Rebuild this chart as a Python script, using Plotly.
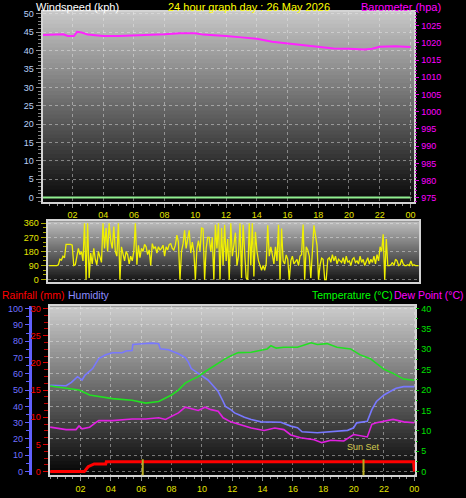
import plotly.graph_objects as go

# 24 hour weather station graph - 26 May 2026

hour_ticks = [2, 4, 6, 8, 10, 12, 14, 16, 18, 20, 22, 24]
hour_labels = ["02", "04", "06", "08", "10", "12", "14", "16", "18", "20", "22", "00"]

# windspeed (kph), calm all day
speed_hours = [0, 24]
speed_kph = [0, 0]

# barometer (hpa)
pressure_hours = [0, 0.5, 1.0, 1.4, 1.7, 2.1, 2.3, 2.6, 3.0, 3.5, 4, 5, 6, 7, 8, 9, 10, 10.5,
                  11, 12, 13, 14, 15, 16, 17, 18, 19, 20, 21, 21.5, 22, 23, 24]
pressure_hpa = [1022.3, 1022.3, 1022.3, 1022.5, 1022.0, 1022.0, 1023.2, 1023.0, 1022.4, 1022.1,
                1022.0, 1022.0, 1022.1, 1022.3, 1022.5, 1022.8, 1022.8, 1022.4, 1022.3, 1022.0,
                1021.6, 1021.2, 1020.3, 1019.8, 1019.4, 1019.0, 1018.4, 1018.3, 1018.1, 1018.3,
                1018.9, 1019.0, 1018.8]

# wind direction (degrees), one reading every 6 minutes
wind_dir = [
    90, 90, 90, 90, 90, 90, 95, 130, 125, 150,
    140, 225, 225, 225, 225, 220, 90, 95, 150, 200,
    160, 180, 120, 360, 0, 360, 10, 170, 100, 200,
    130, 95, 180, 150, 110, 360, 200, 330, 180, 360,
    250, 200, 340, 180, 150, 360, 0, 210, 160, 120,
    180, 160, 100, 150, 120, 180, 360, 95, 220, 140,
    200, 180, 225, 210, 160, 190, 90, 230, 200, 210,
    170, 210, 190, 200, 220, 150, 210, 190, 225, 230,
    200, 190, 220, 284, 240, 0, 180, 230, 315, 200,
    260, 315, 170, 240, 180, 0, 200, 250, 180, 330,
    326, 0, 200, 270, 270, 180, 270, 0, 350, 200,
    360, 0, 330, 90, 350, 120, 260, 0, 360, 150,
    220, 300, 90, 150, 360, 10, 350, 180, 10, 0,
    360, 90, 360, 20, 305, 180, 120, 90, 60, 90,
    60, 100, 347, 150, 210, 160, 100, 210, 120, 351,
    0, 326, 120, 100, 158, 130, 0, 120, 150, 100,
    120, 130, 90, 150, 160, 352, 0, 210, 190, 150,
    10, 150, 347, 284, 221, 0, 95, 137, 130, 0,
    0, 130, 140, 110, 160, 120, 150, 100, 130, 120,
    110, 140, 100, 150, 110, 120, 90, 130, 140, 110,
    120, 100, 150, 110, 130, 90, 120, 140, 100, 130,
    110, 150, 100, 160, 120, 210, 180, 290, 0, 260,
    90, 90, 95, 110, 90, 130, 120, 90, 95, 130,
    100, 90, 90, 95, 90, 120, 90, 95, 90, 90,
    90]
dir_hours = [i / 10 for i in range(len(wind_dir))]

# humidity (%)
hum_hours = [0, 1.05, 1.4, 1.8, 2.1, 2.3, 2.8, 3.2, 3.66, 4.1, 4.75, 5.0, 5.4, 5.45, 6.06, 6.7,
             7.15, 7.25, 7.8, 8.45, 8.9, 9.1, 9.3, 9.76, 10.1, 10.4, 10.7, 11.07, 11.4, 11.55,
             11.9, 12.15, 12.4, 12.8, 13.25, 13.9, 15.2, 15.86, 16.3, 16.6, 17.6, 18.5, 18.9,
             19.6, 20.0, 20.2, 20.9, 21.2, 21.5, 22.0, 22.4, 22.8, 23.3, 24]
humidity = [53, 52.7, 54.7, 58.2, 56.2, 59.2, 63.2, 69.3, 71.7, 72.9, 72.9, 74, 74.3, 78, 78.4,
            78.8, 78.4, 75.4, 74.7, 72.3, 69.9, 67.3, 63.2, 60.2, 58.2, 56.2, 53.1, 49.1, 43, 40,
            38, 36, 35, 33.3, 31.9, 30.5, 30.3, 27.9, 26.9, 24.4, 23.8, 24.4, 24.8, 25.3, 26.9,
            29.9, 30.9, 38, 43, 47, 49.1, 51.1, 52.1, 52.1]

# temperature (C)
temp_hours = [0, 1.05, 1.9, 2.6, 3.4, 4.1, 5.4, 6.3, 7.15, 7.6, 8.0, 8.45, 8.9, 9.3, 9.76, 10.2,
              10.6, 11.07, 11.5, 11.9, 12.4, 13.25, 13.9, 14.3, 14.55, 14.9, 15.4, 16.3, 17.2,
              17.6, 18.25, 18.9, 19.8, 20.4, 21.1, 21.5, 22.0, 22.6, 23.3, 24]
temperature = [21.0, 20.4, 20.0, 18.8, 18.4, 17.9, 17.5, 16.8, 17.2, 18.0, 18.8, 20.0, 21.7, 22.5,
               23.3, 24.5, 25.5, 26.7, 27.6, 28.4, 29.2, 29.3, 29.7, 30.1, 30.9, 30.3, 30.5, 30.5,
               31.6, 31.2, 31.4, 30.5, 30.1, 28.7, 27.7, 26.5, 25.1, 24.1, 22.7, 22.4]

# dew point (C)
dew_hours = [0, 1.05, 1.7, 1.9, 2.1, 2.6, 3.0, 3.2, 4.1, 5.4, 6.3, 7.15, 7.6, 8.0, 8.45, 8.9, 9.3,
             9.76, 10.2, 10.6, 11.07, 11.4, 11.9, 12.4, 13.25, 14.1, 14.8, 15.4, 15.86, 16.5,
             17.4, 17.9, 18.5, 19.35, 20.0, 20.9, 21.2, 21.5, 22.6, 23.3, 24]
dew_point = [10.9, 10.3, 10.3, 11.2, 10.5, 10.9, 12.0, 12.5, 12.5, 12.9, 12.9, 13.2, 12.8, 13.6,
             14.4, 15.8, 15.4, 15.0, 15.8, 15.2, 14.8, 13.2, 12.2, 11.6, 10.7, 10.1, 10.7, 10.3,
             9.0, 8.3, 7.8, 7.1, 7.7, 7.5, 9.1, 8.5, 11.6, 12.0, 12.8, 12.2, 12.0]

# rainfall (mm)
rain_hours = [0, 2.25, 2.5, 2.9, 3.66, 3.7, 23.95, 24.0]
rain_mm = [0, 0, 0.9, 1.4, 1.4, 1.8, 1.8, 0]

# sun rise / sun set
sun_hours = [6.1, 20.65]

W, H = 466, 498


def px(x):
    return x / W


def py(y):
    return 1 - y / H


def add_gradient(fig, xa, ya, top, bottom, n=48):
    # grey-to-black background of a panel, stripes overlap a little to hide seams
    for i in range(n):
        g = int(bottom + (top - bottom) * (i + 0.5) / n)
        fig.add_shape(type="rect", xref=xa + " domain", yref=ya + " domain",
                      x0=0, x1=1, y0=i / n, y1=min(1, (i + 1.6) / n),
                      fillcolor=f"rgb({g},{g},{g})", line_width=0, layer="below")


FONT = "Liberation Sans"
GRID = "rgba(235,235,235,0.45)"
BORDER = "#d4d4d4"
YEL = "#e4e400"

fig = go.Figure()

fig.add_trace(go.Scatter(x=speed_hours, y=speed_kph, xaxis="x", yaxis="y", mode="lines",
                         line=dict(color="#90ee90", width=2)))
fig.add_trace(go.Scatter(x=pressure_hours, y=pressure_hpa, xaxis="x", yaxis="y2", mode="lines",
                         line=dict(color="#ff22ff", width=2)))
fig.add_trace(go.Scatter(x=dir_hours, y=wind_dir, xaxis="x2", yaxis="y3", mode="lines",
                         line=dict(color="#f0f000", width=1.3)))
fig.add_trace(go.Scatter(x=rain_hours, y=rain_mm, xaxis="x3", yaxis="y5", mode="lines",
                         line=dict(color="#ff0000", width=3)))
fig.add_trace(go.Scatter(x=hum_hours, y=humidity, xaxis="x3", yaxis="y6", mode="lines",
                         line=dict(color="#7878ff", width=1.6)))
fig.add_trace(go.Scatter(x=temp_hours, y=temperature, xaxis="x3", yaxis="y7", mode="lines",
                         line=dict(color="#22e022", width=1.6)))
fig.add_trace(go.Scatter(x=dew_hours, y=dew_point, xaxis="x3", yaxis="y7", mode="lines",
                         line=dict(color="#e020e0", width=1.6)))

add_gradient(fig, "x", "y", 200, 8)
add_gradient(fig, "x2", "y3", 190, 20)
add_gradient(fig, "x3", "y5", 205, 4)

for t in sun_hours:
    fig.add_shape(type="line", xref="x3", yref="y5 domain", x0=t, x1=t, y0=0, y1=0.094,
                  line=dict(color="#b8ac20", width=2))
fig.add_annotation(x=sun_hours[1], xref="x3", y=0.123, yref="y5 domain", text="Sun Set",
                   showarrow=False, font=dict(color="#d4cc50", size=9))

xcommon = dict(tickvals=hour_ticks, ticktext=hour_labels, tickfont=dict(color=YEL, size=9),
               ticks="outside", ticklen=4, tickcolor="#909090",
               minor=dict(tickmode="linear", tick0=0, dtick=0.5, ticks="outside", ticklen=2,
                          tickcolor="#909090", showgrid=False),
               showgrid=True, gridcolor=GRID, griddash="dot", gridwidth=1,
               showline=True, linecolor=BORDER, linewidth=2, mirror=True, zeroline=False)

fig.update_layout(
    width=W, height=H, autosize=False, margin=dict(l=0, r=0, t=0, b=0),
    paper_bgcolor="black", plot_bgcolor="black", showlegend=False,
    font=dict(family=FONT, size=9, color="white"),
    xaxis=dict(domain=[px(43), px(418)], range=[0.06, 24.26], anchor="y", **xcommon),
    yaxis=dict(domain=[py(201), py(9)], range=[-1.08, 50.54], anchor="x",
               tick0=0, dtick=5, tickfont=dict(color="#b8d0f8", size=9),
               ticks="outside", ticklen=5, tickcolor="#909090",
               minor=dict(dtick=1, ticks="outside", ticklen=3, tickcolor="#808080", showgrid=False),
               showgrid=True, gridcolor=GRID, griddash="dot",
               showline=True, linecolor=BORDER, linewidth=2, mirror=True, zeroline=False),
    yaxis2=dict(overlaying="y", side="right", anchor="x", range=[973.9, 1029.0],
                tick0=975, dtick=5, tickfont=dict(color="#ff00ff", size=9),
                ticks="outside", ticklen=4, tickcolor="#e000e0",
                minor=dict(dtick=1, ticks="outside", ticklen=2, tickcolor="#c000c0", showgrid=False),
                showgrid=False, showline=False, zeroline=False),
    xaxis2=dict(domain=[px(48), px(423)], range=[-0.1, 24.05], anchor="y3",
                showticklabels=False, ticks="", showgrid=False,
                showline=True, linecolor=BORDER, linewidth=2, mirror=True, zeroline=False),
    yaxis3=dict(domain=[py(282), py(221)], range=[-12.6, 372.6], anchor="x2",
                tickvals=[0, 90, 180, 270, 360], tickfont=dict(color=YEL, size=9),
                ticks="outside", ticklen=5, tickcolor="#a8a800",
                minor=dict(dtick=30, ticks="outside", ticklen=3, tickcolor="#a8a800", showgrid=False),
                showgrid=True, gridcolor=GRID, griddash="dot",
                showline=True, linecolor=BORDER, linewidth=2, mirror=True, zeroline=False),
    yaxis4=dict(overlaying="y3", anchor="free", position=px(432), side="right",
                range=[-12.6, 372.6], tickvals=[0, 90, 180, 270, 360],
                ticktext=["N", "E", "S", "W", "N"], tickfont=dict(color="#f0f000", size=12),
                ticks="", showgrid=False, showline=False, zeroline=False),
    xaxis3=dict(domain=[px(50), px(419)], range=[-0.04, 24.07], anchor="y5", **xcommon),
    yaxis5=dict(domain=[py(478), py(307)], range=[-0.67, 30.42], anchor="x3",
                tick0=0, dtick=5, tickfont=dict(color="#ff0000", size=9),
                ticks="outside", ticklen=5, tickcolor="#e00000",
                minor=dict(dtick=1.25, ticks="outside", ticklen=4, tickcolor="#c00000", showgrid=False),
                showgrid=False, showline=True, linecolor=BORDER, linewidth=2, mirror=True,
                zeroline=False),
    yaxis6=dict(overlaying="y5", anchor="free", position=px(30), side="left",
                range=[-2.24, 101.4], tick0=0, dtick=10, tickfont=dict(color="#7070ff", size=9),
                ticks="outside", ticklen=4, tickcolor="#6060ff",
                minor=dict(dtick=5, ticks="outside", ticklen=3, tickcolor="#6060ff", showgrid=False),
                showgrid=True, gridcolor=GRID, griddash="dot",
                showline=True, linecolor="#6060ff", linewidth=3, zeroline=False),
    yaxis7=dict(overlaying="y5", side="right", anchor="x3", range=[-0.9, 40.56],
                tick0=0, dtick=5, tickfont=dict(color="#00e000", size=9),
                ticks="outside", ticklen=3, tickcolor="#00c000",
                minor=dict(dtick=2.5, ticks="outside", ticklen=2, tickcolor="#00c000", showgrid=False),
                showgrid=False, showline=False, zeroline=False),
)

# header texts
labels = [
    ("Windspeed (kph)", px(34), py(4), "left", "#ffffff", 11),
    ("24 hour graph day : 26 May 2026", px(251), py(4), "center", "#ffff00", 11),
    ("Barometer (hpa)", px(447), py(4), "right", "#ff00ff", 11),
    ("Rainfall (mm)", px(0), py(296), "left", "#ff0000", 10.5),
    ("Humidity", px(67), py(296), "left", "#8c8cff", 10.5),
    ("Temperature (°C)", px(313), py(296), "left", "#00ff00", 10.5),
    ("Dew Point (°C)", px(395), py(296), "left", "#ff00ff", 10.5),
]
for text, x, y, anchor, color, size in labels:
    fig.add_annotation(x=x, y=y, xref="paper", yref="paper", text=text, showarrow=False,
                       xanchor=anchor, yanchor="middle", font=dict(color=color, size=size))

# the page body has a default 8px margin, drop it so the figure fills the window
fig.write_html("out.html", config={"displayModeBar": False},
               post_script="document.body.style.margin='0';")
